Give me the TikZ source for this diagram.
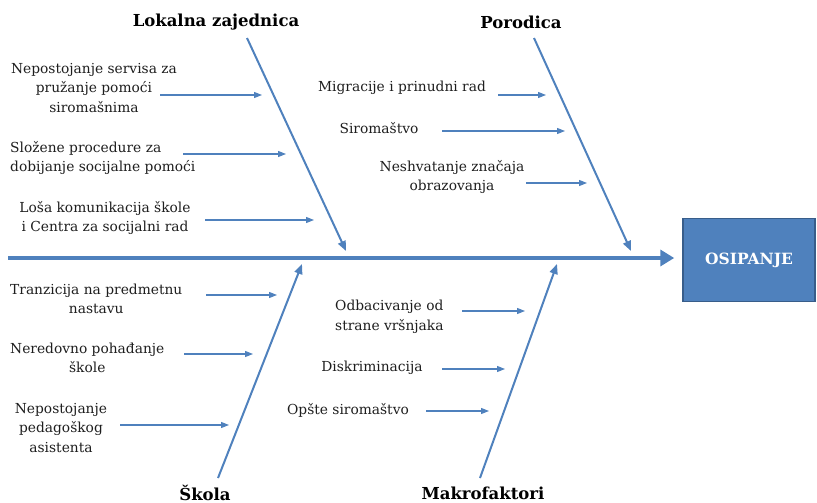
\documentclass[tikz,border=0pt]{standalone}
\usepackage{fontspec}
\setmainfont{DejaVu Serif}
\usetikzlibrary{arrows.meta}
\definecolor{fishblue}{RGB}{79,129,189}
\definecolor{boxedge}{RGB}{56,93,138}
\definecolor{txtgray}{RGB}{30,30,30}
\begin{document}
\begin{tikzpicture}[x=1pt, y=-1pt,
	cause/.style={draw=fishblue, line width=1.1pt, -{Triangle[length=8pt,width=6pt]}},
	bone/.style={draw=fishblue, line width=2pt, -{Triangle[length=10pt,width=8pt]}},
	spine/.style={draw=fishblue, line width=4pt, -{Triangle[length=14pt,width=16pt]}},
	txt/.style={text=txtgray, font=\fontsize{13.8}{19.5}\selectfont, inner sep=0pt},
	head/.style={text=black, font=\fontsize{16.5}{18}\selectfont\bfseries, inner sep=0pt},
	effect/.style={draw=boxedge, line width=1.5pt, fill=fishblue, text=white,
		font=\fontsize{15.5}{18}\selectfont\bfseries, minimum width=132pt, minimum height=83pt}]
	\useasboundingbox (0,0) rectangle (817,503);
	% head and spine
	\node[effect] (osip) at (749,260) {OSIPANJE};
	\coordinate (tail) at (8,258);
	\draw[spine, shorten >=8pt] (tail) -- (tail -| osip.west);
	% categories
	\node[head] (lok) at (216,22) {Lokalna zajednica};
	\node[head] (por) at (521,22) {Porodica};
	\node[head] (sko) at (205,493) {Škola};
	\node[head] (mak) at (483,493) {Makrofaktori};
	\coordinate (lokend) at (346,251);
	\coordinate (porend) at (631,251);
	\coordinate (skoend) at (302,264);
	\coordinate (makend) at (557,264);
	\draw[bone] (247,38) -- (lokend);
	\draw[bone] (534,38) -- (porend);
	\draw[bone] (218,478) -- (skoend);
	\draw[bone] (480,478) -- (makend);
	% Lokalna zajednica
	\node[txt, align=center] (l1) at (94,88) {Nepostojanje servisa za\\pružanje pomoći\\siromašnima};
	\node[txt, align=left, anchor=west] (l2) at (10,158) {Složene procedure za\\dobijanje socijalne pomoći};
	\node[txt, align=center] (l3) at (105,218) {Loša komunikacija škole\\i Centra za socijalni rad};
	\coordinate (l1a) at (160,95);  \coordinate (l1b) at (262,95);
	\coordinate (l2a) at (183,154); \coordinate (l2b) at (286,154);
	\coordinate (l3a) at (205,220); \coordinate (l3b) at (314,220);
	\draw[cause] (l1a) -- (l1b);
	\draw[cause] (l2a) -- (l2b);
	\draw[cause] (l3a) -- (l3b);
	% Porodica
	\node[txt] (p1) at (402,88) {Migracije i prinudni rad};
	\node[txt] (p2) at (379,128) {Siromaštvo};
	\node[txt, align=center] (p3) at (452,177) {Neshvatanje značaja\\obrazovanja};
	\coordinate (p1a) at (498,95);  \coordinate (p1b) at (546,95);
	\coordinate (p2a) at (442,131); \coordinate (p2b) at (565,131);
	\coordinate (p3a) at (526,183); \coordinate (p3b) at (587,183);
	\draw[cause] (p1a) -- (p1b);
	\draw[cause] (p2a) -- (p2b);
	\draw[cause] (p3a) -- (p3b);
	% Skola
	\node[txt, align=center, anchor=west] (s1) at (10,299) {Tranzicija na predmetnu\\nastavu};
	\node[txt, align=center, anchor=west] (s2) at (10,358) {Neredovno pohađanje\\škole};
	\node[txt, align=center] (s3) at (61,428) {Nepostojanje\\pedagoškog\\asistenta};
	\coordinate (s1a) at (206,295); \coordinate (s1b) at (277,295);
	\coordinate (s2a) at (184,354); \coordinate (s2b) at (253,354);
	\coordinate (s3a) at (120,425); \coordinate (s3b) at (229,425);
	\draw[cause] (s1a) -- (s1b);
	\draw[cause] (s2a) -- (s2b);
	\draw[cause] (s3a) -- (s3b);
	% Makrofaktori
	\node[txt, align=left, anchor=west] (m1) at (335,317) {Odbacivanje od\\strane vršnjaka};
	\node[txt] (m2) at (372,368) {Diskriminacija};
	\node[txt] (m3) at (348,410) {Opšte siromaštvo};
	\coordinate (m1a) at (462,311); \coordinate (m1b) at (525,311);
	\coordinate (m2a) at (442,369); \coordinate (m2b) at (505,369);
	\coordinate (m3a) at (426,411); \coordinate (m3b) at (489,411);
	\draw[cause] (m1a) -- (m1b);
	\draw[cause] (m2a) -- (m2b);
	\draw[cause] (m3a) -- (m3b);
\end{tikzpicture}
\end{document}
